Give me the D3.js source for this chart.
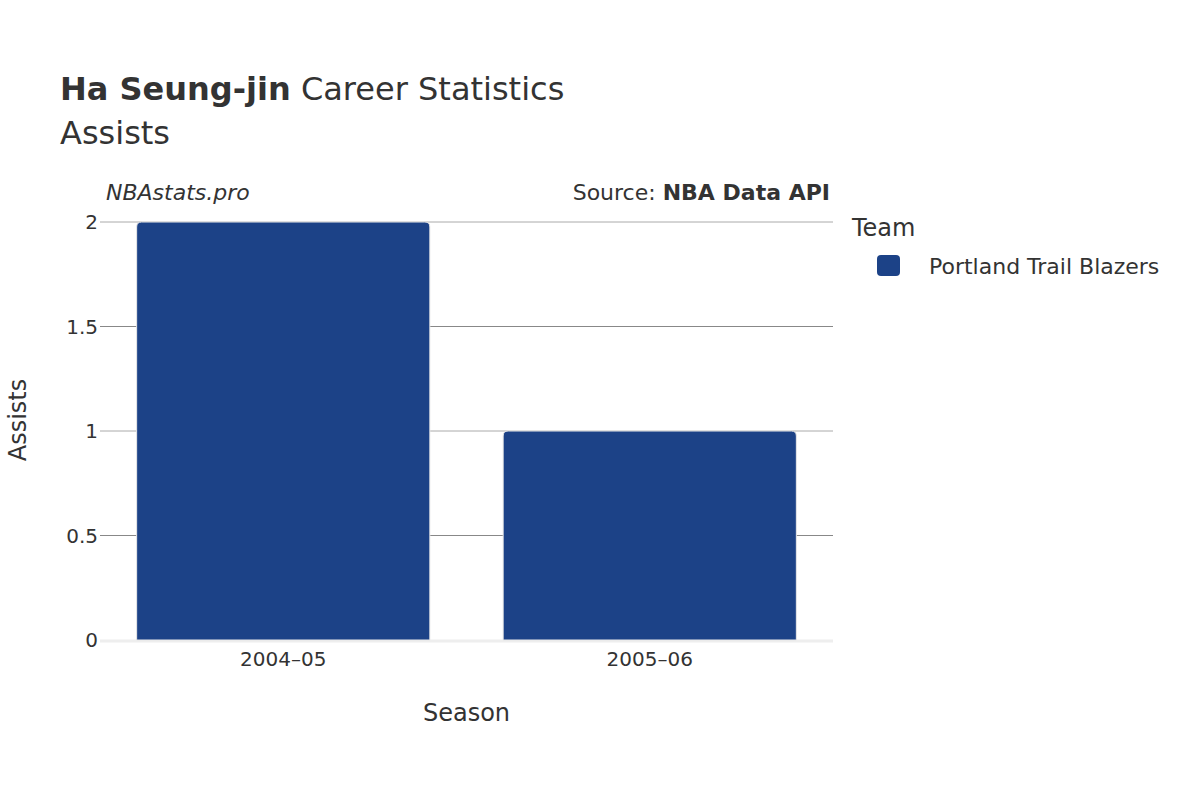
<!DOCTYPE html>
<html><head><meta charset="utf-8">
<script src="https://cdn.jsdelivr.net/npm/d3@7"></script>
<style>body{margin:0;background:#fff}text{font-family:"DejaVu Sans",sans-serif;fill:#333}</style>
</head><body>
<div id="chart"></div>
<script>
// data
const seasons = ['2004–05', '2005–06'];
const assists = [2, 1];
const yTicks = [0, 0.5, 1, 1.5, 2];
const team = 'Portland Trail Blazers';

const width = 1200, height = 800;
const margin = {left: 100, right: 367, top: 222, bottom: 160};

const svg = d3.select('#chart').append('svg')
    .attr('width', width)
    .attr('height', height);

const x = d3.scaleBand()
    .domain(seasons)
    .range([margin.left, width - margin.right])
    .paddingInner(0.2)
    .paddingOuter(0.1);
const y = d3.scaleLinear()
    .domain([0, 2])
    .range([height - margin.bottom, margin.top]);

// grid
svg.append('g').selectAll('line')
    .data(yTicks.filter(d => d > 0))
    .enter().append('line')
    .attr('x1', margin.left).attr('x2', width - margin.right)
    .attr('y1', d => y(d)).attr('y2', d => y(d))
    .attr('stroke', d => d % 1 === 0 ? '#aaa' : '#888')
    .attr('stroke-width', 1);

svg.append('line')
    .attr('x1', margin.left).attr('x2', width - margin.right)
    .attr('y1', y(0) + 1).attr('y2', y(0) + 1)
    .attr('stroke', '#eee').attr('stroke-width', 3);

// bars
svg.append('g').selectAll('path')
    .data(assists)
    .enter().append('path')
    .attr('d', (d, i) => {
        const x0 = x(seasons[i]), w = x.bandwidth(), y0 = y(d), y1 = y(0), r = 5;
        return `M${x0},${y1}V${y0 + r}Q${x0},${y0} ${x0 + r},${y0}H${x0 + w - r}Q${x0 + w},${y0} ${x0 + w},${y0 + r}V${y1}Z`;
    })
    .attr('fill', '#1c4287')
    .attr('stroke', '#e8e8e8').attr('stroke-width', 1);

// y tick labels
svg.append('g').selectAll('text')
    .data(yTicks)
    .enter().append('text')
    .attr('x', margin.left - 2).attr('y', d => y(d) + 7)
    .attr('text-anchor', 'end')
    .attr('font-size', 20)
    .text(d => d);

// x tick labels
svg.append('g').selectAll('text')
    .data(seasons)
    .enter().append('text')
    .attr('x', d => x(d) + x.bandwidth() / 2).attr('y', 666)
    .attr('text-anchor', 'middle')
    .attr('font-size', 20)
    .text(d => d);

// axis titles
svg.append('text').attr('x', (margin.left + width - margin.right) / 2).attr('y', 721)
    .attr('text-anchor', 'middle').attr('font-size', 24).text('Season');
svg.append('text').attr('transform', 'translate(26,420) rotate(-90)')
    .attr('text-anchor', 'middle').attr('font-size', 24).text('Assists');

// title
const t = svg.append('text').attr('x', 60).attr('y', 100).attr('font-size', 32);
t.append('tspan').attr('font-weight', 'bold').text('Ha Seung-jin');
t.append('tspan').text(' Career Statistics');
svg.append('text').attr('x', 60).attr('y', 144).attr('font-size', 32).text('Assists');

svg.append('text').attr('x', 106).attr('y', 200).attr('font-size', 22)
    .attr('font-style', 'italic').text('NBAstats.pro');
const s = svg.append('text').attr('x', 830).attr('y', 200).attr('font-size', 22).attr('text-anchor', 'end');
s.append('tspan').text('Source: ');
s.append('tspan').attr('font-weight', 'bold').text('NBA Data API');

// legend
svg.append('text').attr('x', 852).attr('y', 236).attr('font-size', 24).text('Team');
svg.append('rect').attr('x', 877).attr('y', 255).attr('width', 23).attr('height', 21).attr('rx', 4)
    .attr('fill', '#1c4287');
svg.append('text').attr('x', 929).attr('y', 274).attr('font-size', 22).text(team);
</script>
</body></html>
